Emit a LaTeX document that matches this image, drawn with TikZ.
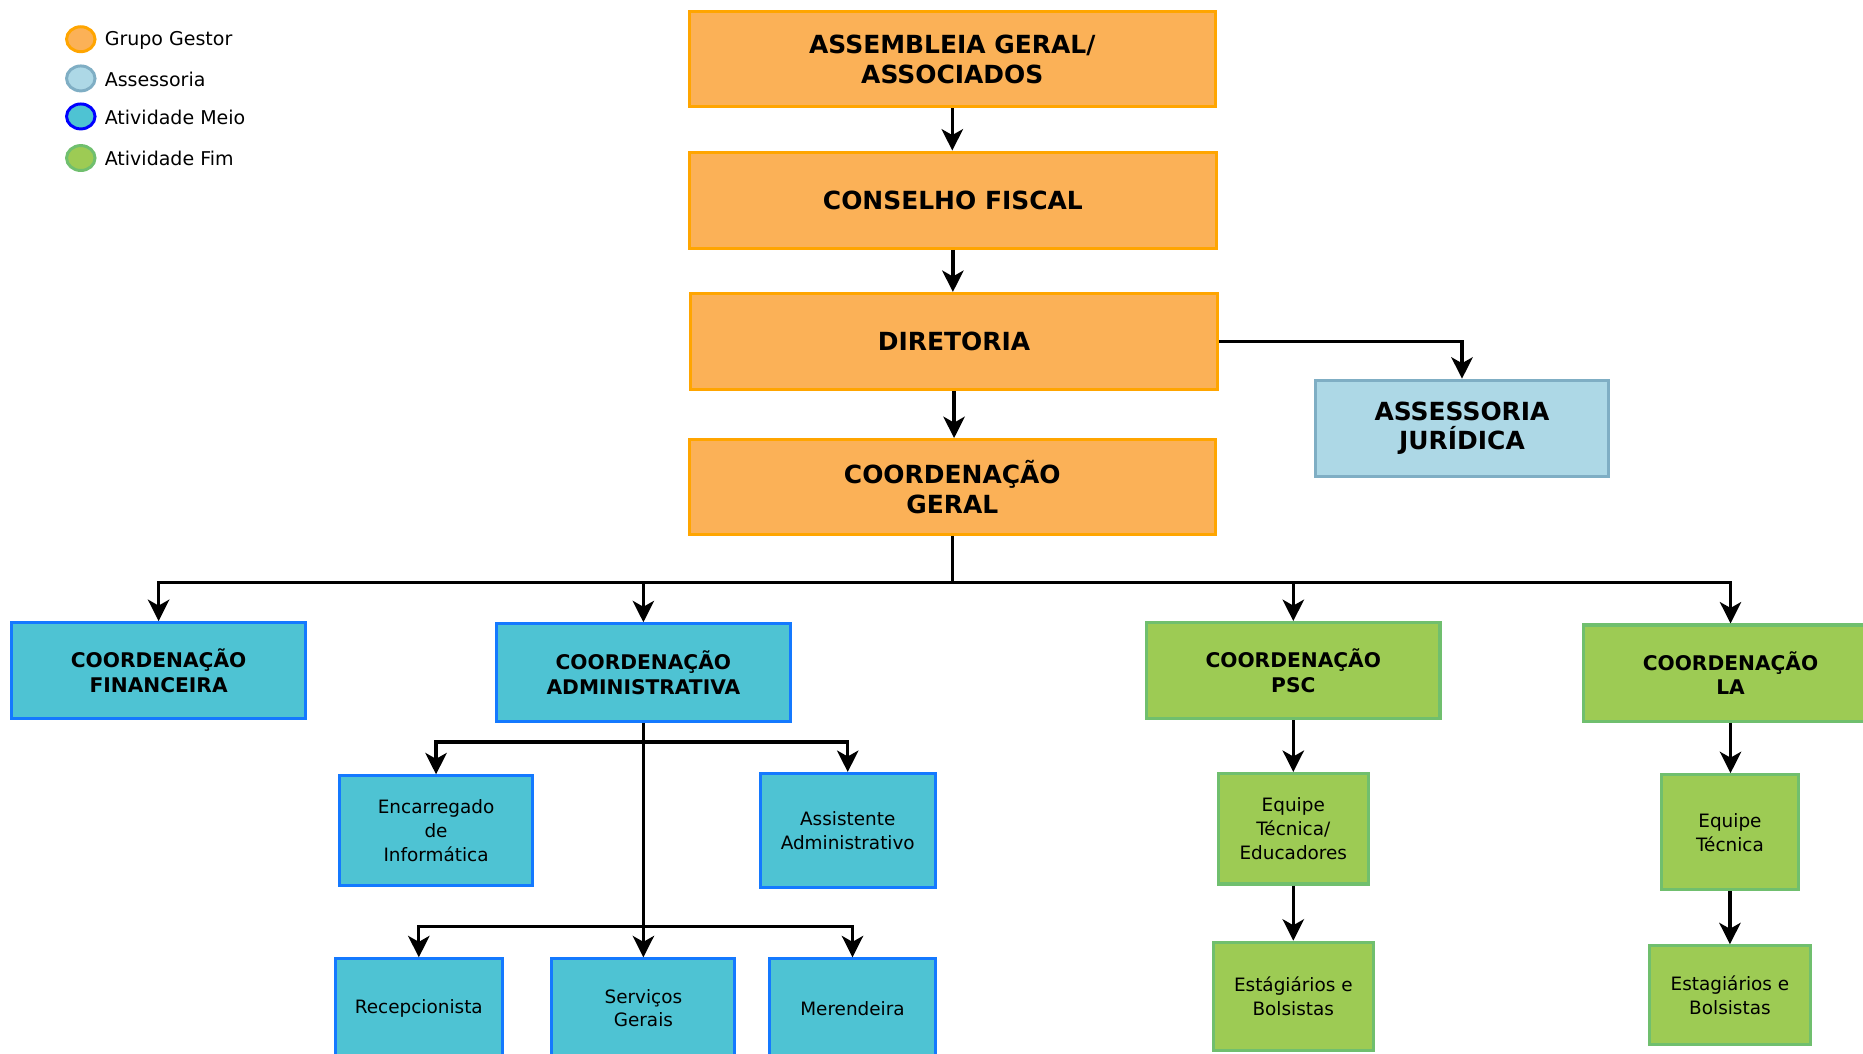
\documentclass[tikz,border=0pt]{standalone}
\usepackage{fontspec}
\setmainfont{DejaVu Sans}
\usetikzlibrary{arrows.meta}
\definecolor{gfill}{HTML}{FBB157}
\definecolor{gdraw}{HTML}{FFA500}
\definecolor{afill}{HTML}{ADD8E6}
\definecolor{adraw}{HTML}{7FAEC4}
\definecolor{mfill}{HTML}{4EC3D3}
\definecolor{mdraw}{HTML}{1479FF}
\definecolor{ldraw}{HTML}{0000FF}
\definecolor{ffill}{HTML}{9DCB54}
\definecolor{fdraw}{HTML}{70BF6E}
\begin{document}
\begin{tikzpicture}[x=1pt,y=-1pt,
  conn/.style={line width=2.8pt,-{Stealth[length=18pt,width=18pt,inset=5pt]}},
  base/.style={draw,line width=2.6pt,align=center,inner sep=0pt,text=black},
  gestor/.style={base,fill=gfill,draw=gdraw,font=\fontsize{21}{25}\selectfont\bfseries},
  assess/.style={base,fill=afill,draw=adraw,font=\fontsize{21}{25}\selectfont\bfseries},
  meiohead/.style={base,fill=mfill,draw=mdraw,font=\fontsize{17}{21}\selectfont\bfseries},
  fimhead/.style={base,fill=ffill,draw=fdraw,font=\fontsize{17}{21}\selectfont\bfseries},
  meio/.style={base,fill=mfill,draw=mdraw,font=\fontsize{15.5}{20}\selectfont},
  fim/.style={base,fill=ffill,draw=fdraw,font=\fontsize{15.5}{20}\selectfont},
  legtext/.style={anchor=west,inner sep=0pt,font=\fontsize{16}{19}\selectfont},
  legdot/.style={line width=2.5pt}
]
\useasboundingbox (0,0) rectangle (1568,887);

% legend
\draw[legdot,fill=gfill,draw=gdraw] (68,33) ellipse [x radius=12pt,y radius=10.5pt];
\draw[legdot,fill=afill,draw=adraw] (68,66) ellipse [x radius=12pt,y radius=10.5pt];
\draw[legdot,fill=mfill,draw=ldraw] (68,98) ellipse [x radius=12pt,y radius=10.5pt];
\draw[legdot,fill=ffill,draw=fdraw] (68,133) ellipse [x radius=12pt,y radius=10.5pt];
\node[legtext] (lg1) at (88,34) {Grupo Gestor};
\node[legtext] (lg2) at (88,67) {Assessoria};
\node[legtext] (lg3) at (88,99) {Atividade Meio};
\node[legtext] (lg4) at (88,133) {Atividade Fim};

% top chain
\node[gestor,minimum width=443pt,minimum height=80pt] (ass) at (801.5,50) {ASSEMBLEIA GERAL/\\ASSOCIADOS};
\node[gestor,minimum width=444pt,minimum height=81pt] (cons) at (802,168.5) {CONSELHO FISCAL};
\node[gestor,minimum width=444pt,minimum height=81pt] (dir) at (803,287.5) {DIRETORIA};
\node[gestor,minimum width=443pt,minimum height=80pt] (cg) at (801.5,410) {COORDENAÇÃO\\GERAL};
\node[assess,minimum width=247pt,minimum height=81pt] (jur) at (1230.5,360.5) {ASSESSORIA\\JURÍDICA};

% level 2
\node[meiohead,minimum width=247pt,minimum height=81pt] (fin) at (133.5,564.5) {COORDENAÇÃO\\FINANCEIRA};
\node[meiohead,minimum width=247pt,minimum height=82pt] (adm) at (541.5,566) {COORDENAÇÃO\\ADMINISTRATIVA};
\node[fimhead,minimum width=247pt,minimum height=81pt] (psc) at (1088.5,564.5) {COORDENAÇÃO\\PSC};
\node[fimhead,minimum width=247pt,minimum height=81pt] (la) at (1456.5,566.5) {COORDENAÇÃO\\LA};

% admin children
\node[meio,minimum width=162pt,minimum height=92pt] (enc) at (367,699) {Encarregado\\de\\Informática};
\node[meio,minimum width=147pt,minimum height=96pt] (asst) at (713.5,699) {Assistente\\Administrativo};
\node[meio,minimum width=141pt,minimum height=83pt] (rec) at (352.5,848.5) {Recepcionista};
\node[meio,minimum width=154pt,minimum height=83pt] (serv) at (541.5,848.5) {Serviços\\Gerais};
\node[meio,minimum width=139pt,minimum height=83pt] (mer) at (717.5,848.5) {Merendeira};

% fim children
\node[fim,minimum width=126pt,minimum height=93pt] (eqp) at (1088.5,697.5) {Equipe\\Técnica/\\Educadores};
\node[fim,minimum width=135pt,minimum height=91pt] (estp) at (1088.5,838.5) {Estágiários e\\Bolsistas};
\node[fim,minimum width=115pt,minimum height=97pt] (eql) at (1456,700.5) {Equipe\\Técnica};
\node[fim,minimum width=135pt,minimum height=83pt] (estl) at (1456,837.5) {Estagiários e\\Bolsistas};

% connectors
\coordinate (bus) at (801.5,490);
\coordinate (abus1) at (541.5,624.5);
\coordinate (abus2) at (541.5,780);

\draw[conn] (ass.south) -- (ass.south |- cons.north);
\draw[conn] (cons.south) -- (cons.south |- dir.north);
\draw[conn] (dir.south) -- (dir.south |- cg.north);
\draw[conn] (dir.east) -| (jur.north);

\draw[conn] (cg.south) -- (bus) -| (fin.north);
\draw[conn] (bus) -| (adm.north);
\draw[conn] (bus) -| (psc.north);
\draw[conn] (bus) -| (la.north);

\draw[conn] (adm.south) -- (abus1) -| (enc.north);
\draw[conn] (abus1) -| (asst.north);
\draw[conn] (abus1) -- (abus2) -| (rec.north);
\draw[conn] (abus2) -- (serv.north);
\draw[conn] (abus2) -| (mer.north);

\draw[conn] (psc.south) -- (eqp.north);
\draw[conn] (eqp.south) -- (estp.north);
\draw[conn] (la.south) -- (la.south |- eql.north);
\draw[conn] (eql.south) -- (estl.north);
\end{tikzpicture}
\end{document}
